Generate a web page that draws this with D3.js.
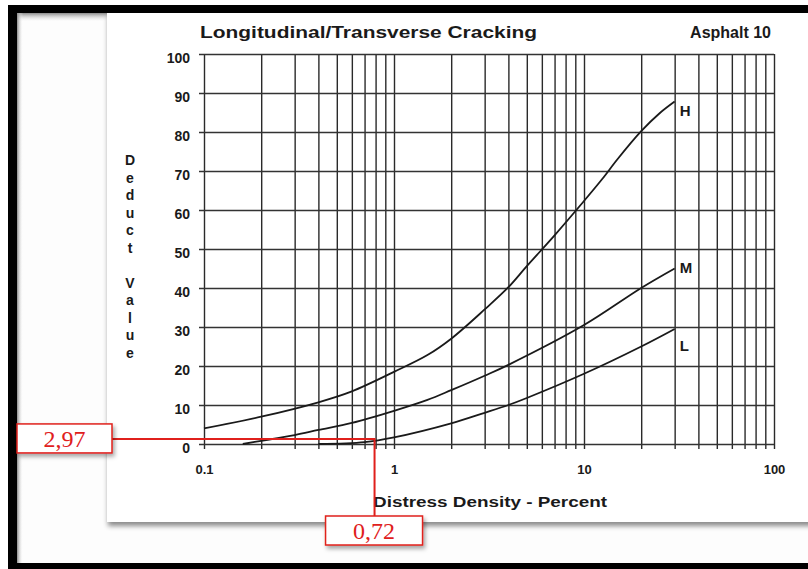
<!DOCTYPE html>
<html>
<head>
<meta charset="utf-8">
<script src="https://cdn.jsdelivr.net/npm/d3@7"></script>
<style>
  body { margin: 0; background: #fff; }
  svg { display: block; }
  text { font-family: "Liberation Sans", Arial, sans-serif; font-weight: bold; fill: #1a1a1a; }
</style>
</head>
<body>
<svg id="chart"></svg>
<script>
// chart data
const densityTicks = [0.1, 0.2, 0.3, 0.4, 0.5, 0.6, 0.7, 0.8, 0.9, 1, 2, 3, 4, 5, 6, 7, 8, 9, 10, 20, 30, 40, 50, 60, 70, 80, 90, 100]
const densityLabels = [0.1, 1, 10, 100]
const deductTicks = [0, 10, 20, 30, 40, 50, 60, 70, 80, 90, 100]

const densityH = [0.1, 0.2, 0.4, 0.6, 1, 1.5, 2, 3, 4, 5, 7, 10, 12.5, 15, 20, 25, 30]
const deductH  = [4, 7, 10.7, 13.5, 18.5, 22.8, 27, 34.5, 40.2, 45.6, 53.5, 62.3, 68, 73, 80.2, 84.8, 87.8]
const densityM = [0.16, 0.2, 0.3, 0.4, 0.6, 1, 1.5, 2, 3, 4, 10, 20, 30]
const deductM  = [0, 0.8, 2.3, 3.6, 5.4, 8.5, 11.3, 13.8, 17.5, 20.3, 30.5, 40, 45]
const densityL = [0.4, 0.7, 1, 2, 3, 4, 5, 10, 20, 30]
const deductL  = [0, 0.5, 1.7, 5.3, 8, 10, 11.8, 18, 25, 29.5]
const severity = ['H', 'M', 'L']

// red reading annotation
const readDensity = 0.79
const readDeduct = 1.3
const readLabels = ['2,97', '0,72']

const width = 808, height = 569

const svg = d3.select('#chart')
    .attr('width', width)
    .attr('height', height)

const defs = svg.append('defs')
const shadow = defs.append('filter').attr('id', 'shadow')
    .attr('x', '-10%').attr('y', '-10%').attr('width', '130%').attr('height', '140%')
shadow.append('feDropShadow')
    .attr('dx', 1).attr('dy', 4).attr('stdDeviation', 2.5)
    .attr('flood-color', '#000').attr('flood-opacity', 0.45)
const boxShadow = defs.append('filter').attr('id', 'boxShadow')
    .attr('x', '-20%').attr('y', '-30%').attr('width', '150%').attr('height', '180%')
boxShadow.append('feDropShadow')
    .attr('dx', 2).attr('dy', 3).attr('stdDeviation', 2)
    .attr('flood-color', '#000').attr('flood-opacity', 0.35)
const topFade = defs.append('linearGradient').attr('id', 'topFade')
    .attr('x1', 0).attr('y1', 0).attr('x2', 0).attr('y2', 1)
topFade.append('stop').attr('offset', 0).attr('stop-color', '#8a8a8a')
topFade.append('stop').attr('offset', 1).attr('stop-color', '#fff').attr('stop-opacity', 0)
const leftFade = defs.append('linearGradient').attr('id', 'leftFade')
    .attr('x1', 0).attr('y1', 0).attr('x2', 1).attr('y2', 0)
leftFade.append('stop').attr('offset', 0).attr('stop-color', '#8a8a8a')
leftFade.append('stop').attr('offset', 1).attr('stop-color', '#fff').attr('stop-opacity', 0)

// black frame
svg.append('rect').attr('x', 8).attr('y', 5).attr('width', 820).attr('height', 580).attr('fill', '#000')
svg.append('rect').attr('x', 17).attr('y', 13).attr('width', 810).attr('height', 550).attr('fill', '#fdfdfd')
svg.append('rect').attr('x', 17).attr('y', 13).attr('width', 810).attr('height', 9).attr('fill', 'url(#topFade)')
svg.append('rect').attr('x', 17).attr('y', 13).attr('width', 6).attr('height', 550).attr('fill', 'url(#leftFade)')

// scanned picture
svg.append('rect').attr('x', 107).attr('y', 13).attr('width', 720).attr('height', 509)
    .attr('fill', '#fff').attr('filter', 'url(#shadow)')

const xScale = d3.scaleLog().domain([0.1, 100]).range([204, 774])
const yScale = d3.scaleLinear().domain([0, 100]).range([444, 54])

// vertical grid + x labels
svg.append('g')
    .attr('transform', `translate(0,${yScale(0) + 5})`)
    .call(d3.axisBottom(xScale).tickValues(densityTicks)
        .tickSize(-(yScale(0) + 5 - yScale(100)))
        .tickPadding(16)
        .tickFormat(d => densityLabels.includes(d) ? String(d) : ''))
    .call(g => g.select('.domain').remove())
    .call(g => g.selectAll('line').attr('stroke', '#2a2a2a').attr('stroke-width', 1.4))
    .call(g => g.selectAll('text').attr('font-size', 13).attr('fill', '#1a1a1a'))

// horizontal grid + y labels
svg.append('g')
    .attr('transform', `translate(${xScale(0.1) - 5},0)`)
    .call(d3.axisLeft(yScale).tickValues(deductTicks)
        .tickSize(-(xScale(100) - xScale(0.1) + 5))
        .tickPadding(9))
    .call(g => g.select('.domain').remove())
    .call(g => g.selectAll('line').attr('stroke', '#333').attr('stroke-width', 1.4))
    .call(g => g.selectAll('text').attr('font-size', 14).attr('dy', '0.62em').attr('fill', '#1a1a1a'))

// curves
const line = d3.line()
    .x(d => xScale(d[0]))
    .y(d => yScale(d[1]))
    .curve(d3.curveCatmullRom.alpha(0.5))
const series = [
    d3.zip(densityH, deductH),
    d3.zip(densityM, deductM),
    d3.zip(densityL, deductL)
]
svg.append('g')
    .selectAll('path')
    .data(series)
    .join('path')
    .attr('d', line)
    .attr('fill', 'none')
    .attr('stroke', '#1a1a1a')
    .attr('stroke-width', 1.8)

const labelShift = [14, 4, 22]
svg.append('g')
    .selectAll('text')
    .data(series)
    .join('text')
    .attr('x', d => xScale(d[d.length - 1][0]) + 5)
    .attr('y', (d, i) => yScale(d[d.length - 1][1]) + labelShift[i])
    .attr('font-size', 15)
    .text((d, i) => severity[i])

// titles
svg.append('text').attr('x', 200).attr('y', 38).attr('font-size', 16)
    .attr('textLength', 337).attr('lengthAdjust', 'spacingAndGlyphs')
    .text('Longitudinal/Transverse Cracking')
svg.append('text').attr('x', 771).attr('y', 38).attr('font-size', 16)
    .attr('text-anchor', 'end')
    .text('Asphalt 10')
svg.append('text').attr('x', 490).attr('y', 507).attr('font-size', 14)
    .attr('text-anchor', 'middle')
    .attr('textLength', 234).attr('lengthAdjust', 'spacingAndGlyphs')
    .text('Distress Density - Percent')

const yTitle = ['D', 'e', 'd', 'u', 'c', 't', '', 'V', 'a', 'l', 'u', 'e']
svg.append('g')
    .selectAll('text')
    .data(yTitle)
    .join('text')
    .attr('x', 130)
    .attr('y', (d, i) => 165 + i * 17.5)
    .attr('text-anchor', 'middle')
    .attr('font-size', 14)
    .text(d => d)

// red reading lines and boxes
const rx = xScale(readDensity), ry = yScale(readDeduct)
const red = '#e0201c'
svg.append('path')
    .attr('d', `M112,${ry}H${rx}V516`)
    .attr('fill', 'none').attr('stroke', red).attr('stroke-width', 2)

const boxes = [
    { x: 17, y: ry - 15, w: 95, h: 29 },
    { x: rx - 49, y: 516, w: 97, h: 29 }
]
const box = svg.append('g')
    .selectAll('g')
    .data(boxes)
    .join('g')
box.append('rect')
    .attr('x', d => d.x).attr('y', d => d.y)
    .attr('width', d => d.w).attr('height', d => d.h)
    .attr('fill', '#fff').attr('stroke', red).attr('stroke-width', 1.5)
    .attr('filter', 'url(#boxShadow)')
box.append('text')
    .attr('x', d => d.x + d.w / 2).attr('y', d => d.y + 23)
    .attr('text-anchor', 'middle')
    .style('font-family', '"Liberation Serif", "Times New Roman", serif')
    .style('font-weight', 'normal')
    .style('fill', red)
    .attr('font-size', 24)
    .text((d, i) => readLabels[i])
</script>
</body>
</html>
